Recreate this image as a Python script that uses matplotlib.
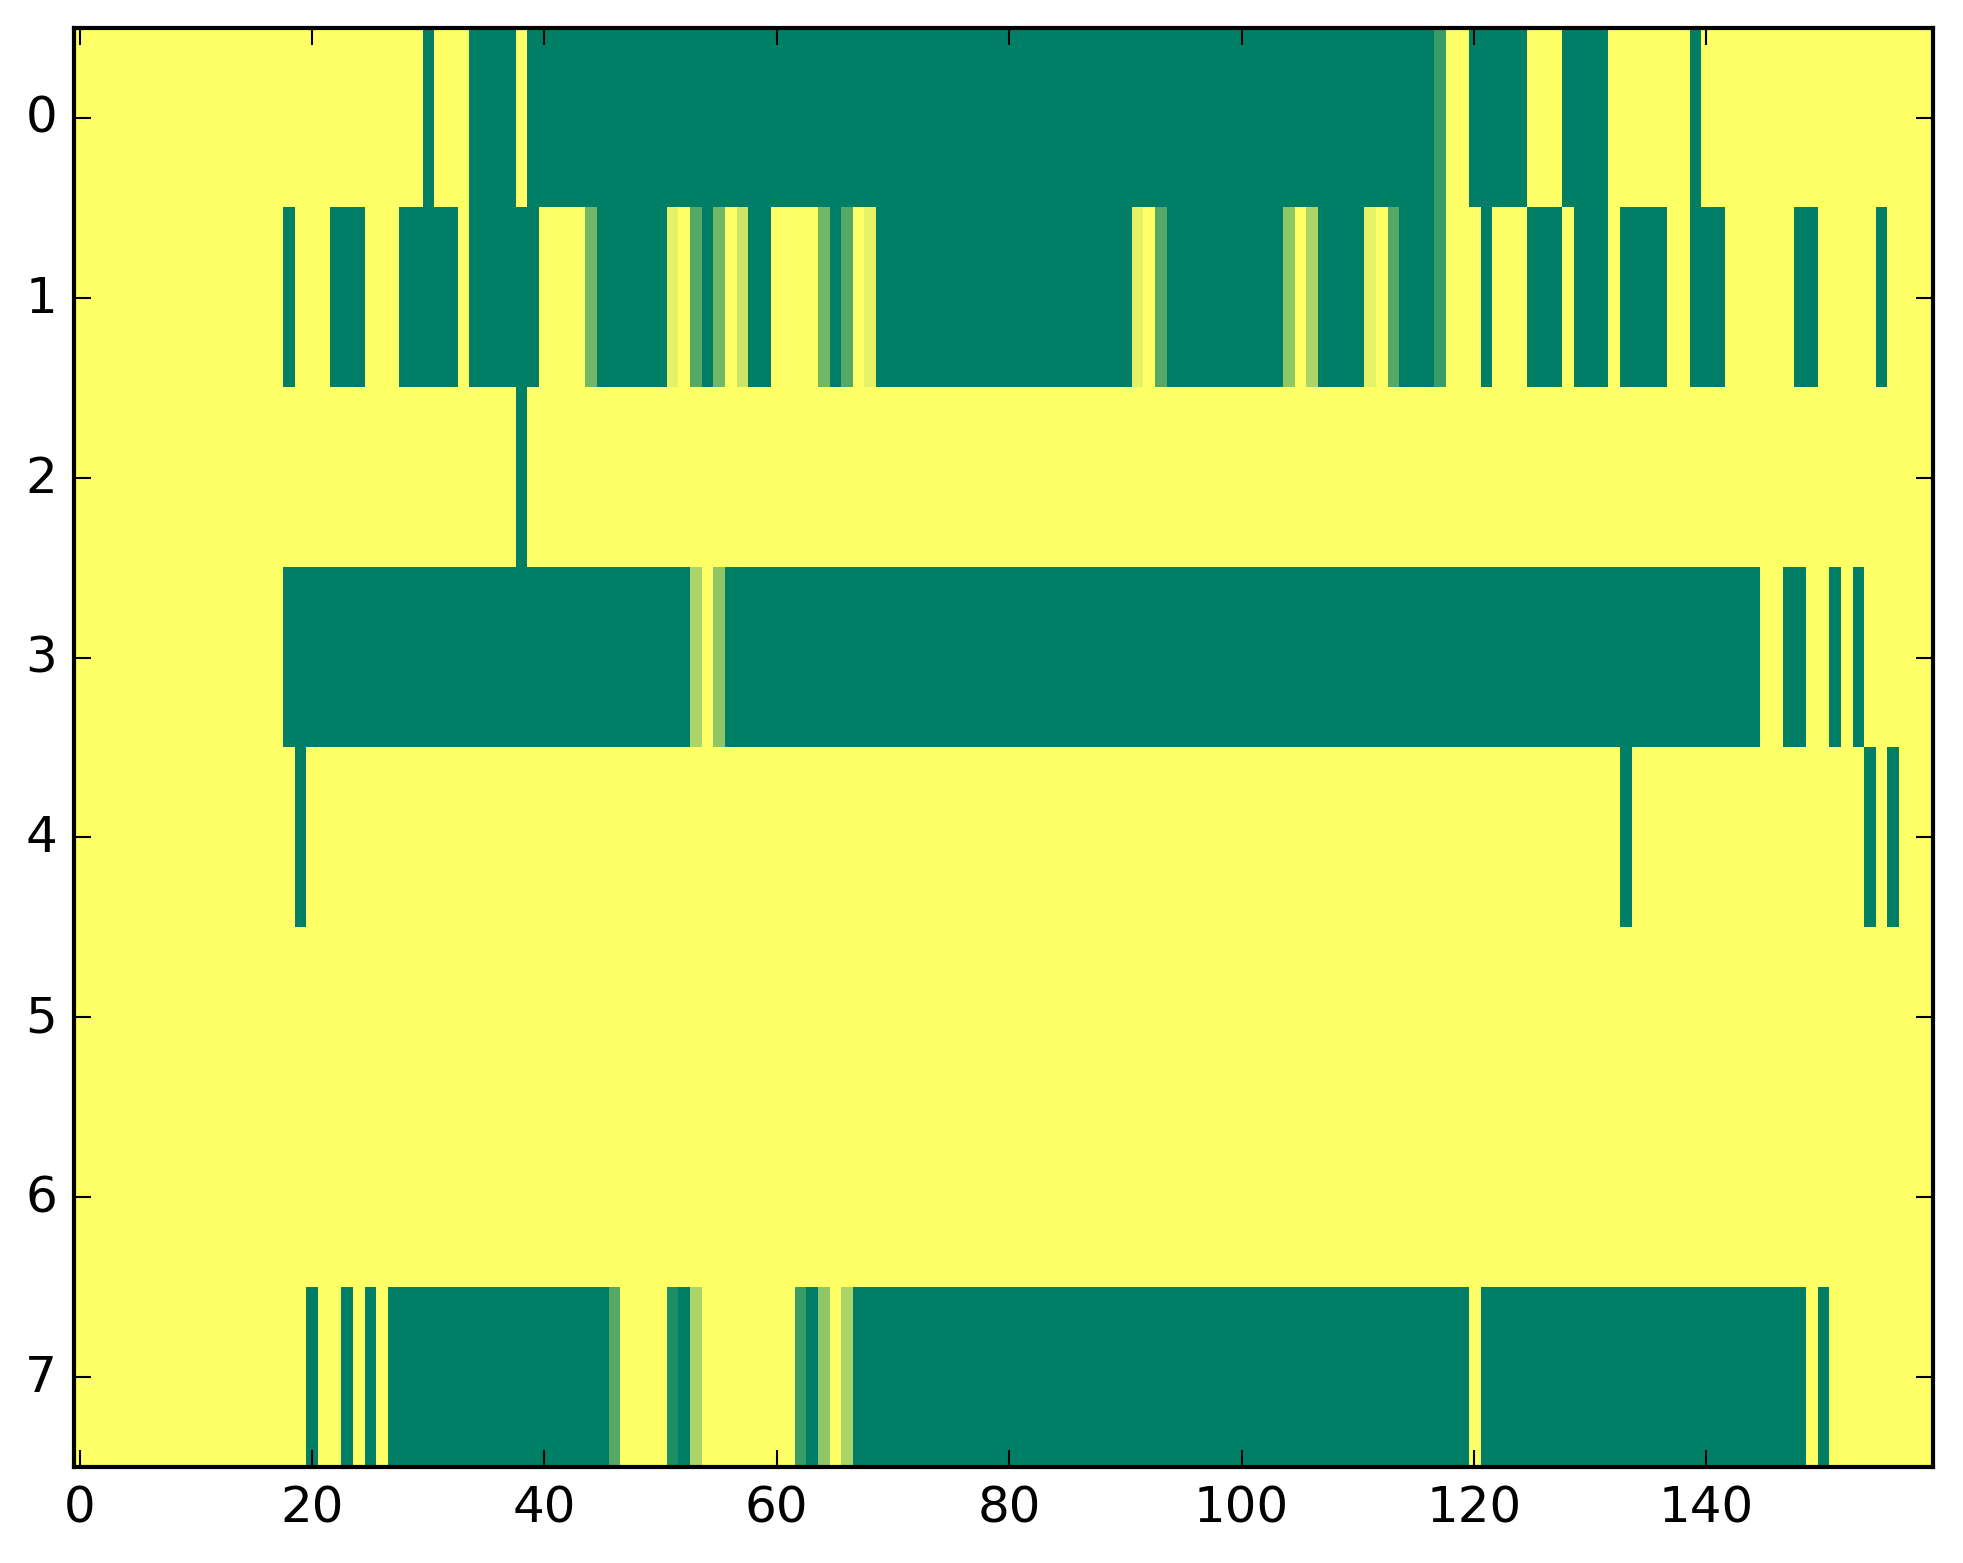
import matplotlib
matplotlib.use('Agg')
import matplotlib.pyplot as plt
import numpy as np

plt.style.use('classic')

n_cols = 160

# (first column, last column, value) for every cell that is not 0
row0 = [(30, 30, 1), (34, 37, 1), (39, 116, 1), (117, 117, 0.77), (120, 124, 1),
        (128, 131, 1), (139, 139, 1)]
row1 = [(18, 18, 1), (22, 24, 1), (28, 32, 1), (34, 39, 1), (44, 44, 0.56), (45, 50, 1),
        (51, 51, 0.1), (53, 53, 0.67), (54, 54, 1), (55, 55, 0.56), (57, 57, 0.2),
        (58, 59, 1), (64, 64, 0.56), (65, 65, 1), (66, 66, 0.67), (68, 68, 0.1),
        (69, 90, 1), (91, 91, 0.1), (93, 93, 0.67), (94, 103, 1), (104, 104, 0.44),
        (106, 106, 0.33), (107, 110, 1), (111, 111, 0.1), (113, 113, 0.67),
        (114, 116, 1), (117, 117, 0.77), (121, 121, 1), (125, 127, 1), (129, 131, 1),
        (133, 136, 1), (139, 141, 1), (148, 149, 1), (155, 155, 1)]
row2 = [(38, 38, 1)]
row3 = [(18, 52, 1), (53, 53, 0.33), (55, 55, 0.44), (56, 144, 1), (147, 148, 1),
        (151, 151, 1), (153, 153, 1)]
row4 = [(19, 19, 1), (133, 133, 1), (154, 154, 1), (156, 156, 1)]
row5 = []
row6 = []
row7 = [(20, 20, 1), (23, 23, 1), (25, 25, 1), (27, 45, 1), (46, 46, 0.67),
        (51, 51, 0.88), (52, 52, 1), (53, 53, 0.33), (62, 62, 0.77), (63, 63, 1),
        (64, 64, 0.44), (66, 66, 0.33), (67, 119, 1), (121, 148, 1), (150, 150, 1)]

rows = [row0, row1, row2, row3, row4, row5, row6, row7]

data = np.zeros((len(rows), n_cols))
for i, segs in enumerate(rows):
    for a, b, v in segs:
        data[i, a:b + 1] = v

fig = plt.figure(figsize=(1963 / 300, 1564 / 300), dpi=300)
ax = fig.add_axes([0.0376, 0.0614, 0.9471, 0.9201])
ax.imshow(data, cmap='summer_r', vmin=0, vmax=1, aspect='auto',
          interpolation='nearest')
ax.set_xticks(np.arange(0, 141, 20))
ax.set_yticks(np.arange(0, 8))

fig.savefig('out.png', dpi=300)
